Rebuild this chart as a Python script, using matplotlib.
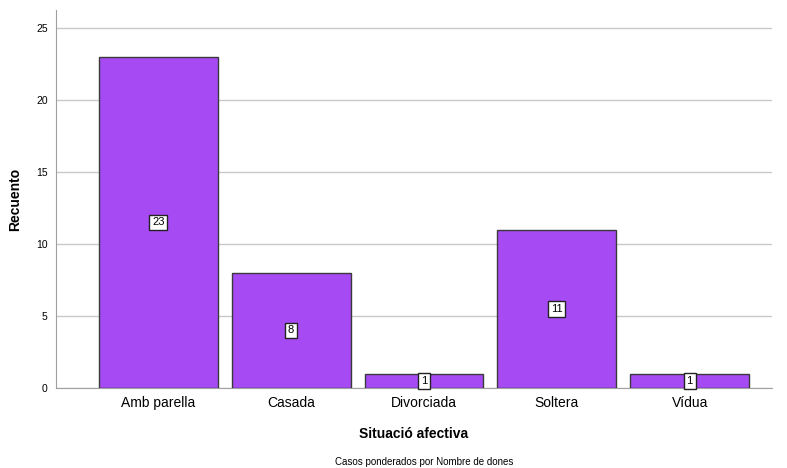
import matplotlib.pyplot as plt

plt.rcParams['font.family'] = ['Liberation Sans', 'DejaVu Sans']

categories = ['Amb parella', 'Casada', 'Divorciada', 'Soltera', 'Vídua']
counts = [23, 8, 1, 11, 1]
yticks = [0, 5, 10, 15, 20, 25]

fig = plt.figure(figsize=(7.87, 4.68), dpi=100)
ax = fig.add_axes([56 / 787, 80 / 468, 716 / 787, 378 / 468])

x = range(len(categories))
bars = ax.bar(x, counts, width=0.895, color='#a64af3', edgecolor='#3a3a3a', linewidth=1, zorder=3)

for xi, v in zip(x, counts):
    ax.text(xi, v / 2, str(v), ha='center', va='center', fontsize=8, zorder=4,
            bbox=dict(boxstyle='square,pad=0.25', facecolor='white', edgecolor='#222222', linewidth=1))

ax.set_xlim(-0.77, 4.62)
ax.set_ylim(0, 26.25)
ax.set_yticks(yticks)
ax.set_xticks(list(x))
ax.set_xticklabels(categories, fontsize=10)
ax.tick_params(axis='y', labelsize=7.5, length=0, pad=6)
ax.tick_params(axis='x', length=0, pad=6)
ax.yaxis.grid(True, color='#c8c8c8', linewidth=1, zorder=0)
ax.set_axisbelow(True)

for s in ['top', 'right']:
    ax.spines[s].set_visible(False)
for s in ['left', 'bottom']:
    ax.spines[s].set_color('#a0a0a0')

ax.set_ylabel('Recuento', fontsize=10, fontweight='bold', labelpad=10)
ax.set_xlabel('Situació afectiva', fontsize=10, fontweight='bold', labelpad=12)

fig.text(424 / 787, 1 - 462 / 468, 'Casos ponderados por Nombre de dones', ha='center', va='center', fontsize=7)

fig.savefig('out.png', dpi=100)
